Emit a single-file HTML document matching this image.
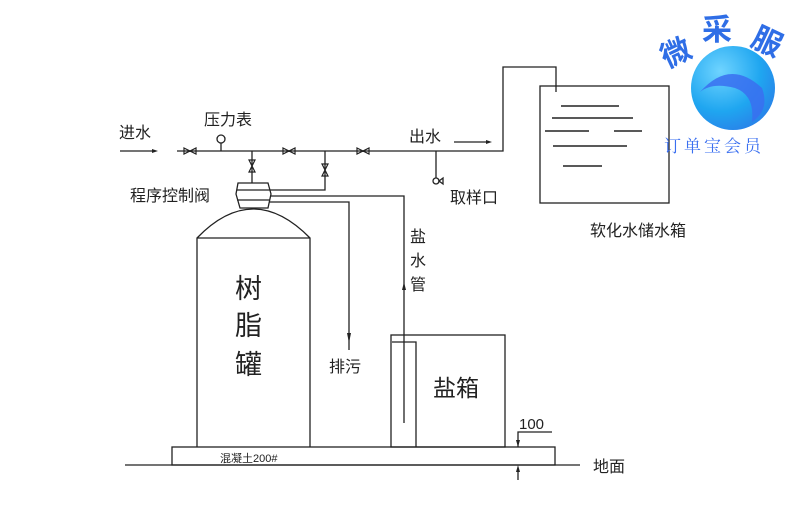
<!DOCTYPE html>
<html><head><meta charset="utf-8"><style>
body{margin:0;background:#fff;}
svg{display:block;}
text{font-family:"Liberation Sans","Noto Sans CJK SC",sans-serif;fill:#222;}
</style></head><body>
<svg width="800" height="529" viewBox="0 0 800 529" xmlns="http://www.w3.org/2000/svg">
<defs>
<radialGradient id="g" cx="0.35" cy="0.3" r="0.8">
<stop offset="0" stop-color="#6fd4ff"/><stop offset="0.6" stop-color="#1fa6f0"/><stop offset="1" stop-color="#2a7de8"/>
</radialGradient>
</defs>
<g stroke="#222" stroke-width="1.3" fill="none">
<path d="M177 151 H503 V67 H556 V92"/>
<rect x="540" y="86" width="129" height="117"/>
<path d="M561 106H619 M552 118H633 M545 131H589 M614 131H642 M553 146H627 M563 166H602" stroke-width="1.6"/>
<path d="M252 151V183 M325 151V190 H270 M271 196H404V423 M268 202H349V350 M436 151V178"/>
<path d="M238 183H268L271 194L268 208H240L236 194Z" fill="#fff"/>
<path d="M237 190H270 M237 200H270"/>
<path d="M197 447V238 Q253 180 310 238V447 M197 238H310"/>
<rect x="391" y="335" width="114" height="112"/>
<path d="M392 342H416V447"/>
<rect x="172" y="447" width="383" height="18"/>
<path d="M125 465H580"/>
<path d="M518 447V432H552 M518 470V480"/>
<path d="M120 151H152 M454 142H486"/>
<circle cx="436" cy="181" r="3"/>
<path d="M439 181l4-3v6z"/>
<path d="M221 143V151"/>
<circle cx="221" cy="139" r="4"/>
</g>
<g fill="#222">
<path d="M184 148l12 6v-6l-12 6z M283 148l12 6v-6l-12 6z M357 148l12 6v-6l-12 6z" stroke="#222" stroke-width="1.2" fill="none"/>
<path d="M249 160l6 12h-6l6-12z M322 164l6 12h-6l6-12z" stroke="#222" stroke-width="1.2" fill="none"/>
<path d="M152 149l6 2-6 2z M486 140l6 2-6 2z M347 333l2 10 2-10z M402 290l2-8 2 8z M516 440l2 7 2-7z M516 472l2-7 2 7z"/>
</g>
<text x="119" y="138" font-size="16">进水</text>
<text x="204" y="125" font-size="16">压力表</text>
<text x="409" y="142" font-size="16">出水</text>
<text x="130" y="201" font-size="16">程序控制阀</text>
<text x="450" y="203" font-size="16">取样口</text>
<text x="590" y="236" font-size="16">软化水储水箱</text>
<text x="410" y="242" font-size="16">盐</text>
<text x="410" y="266" font-size="16">水</text>
<text x="410" y="290" font-size="16">管</text>
<text x="235" y="298" font-size="27">树</text>
<text x="235" y="335" font-size="27">脂</text>
<text x="235" y="374" font-size="27">罐</text>
<text x="329" y="372" font-size="16">排污</text>
<text x="433" y="396" font-size="23">盐箱</text>
<text x="519" y="429" font-size="15">100</text>
<text x="220" y="462" font-size="11">混凝土200#</text>
<text x="593" y="472" font-size="16">地面</text>
<circle cx="733" cy="88" r="42" fill="url(#g)"/>
<path d="M700 92 Q730 58 762 88 Q770 110 752 122 Q755 95 735 88 Q712 82 700 92Z" fill="#3a6ff0" opacity="0.85"/>
<text x="660" y="62" font-size="30" font-weight="bold" style="fill:#2f6ee6" transform="rotate(-25 678 50)">微</text>
<text x="702" y="40" font-size="30" font-weight="bold" style="fill:#2f6ee6">采</text>
<text x="752" y="52" font-size="30" font-weight="bold" style="fill:#2f6ee6" transform="rotate(25 767 42)">服</text>
<text x="664" y="152" font-size="17" style="fill:#3a6ff0;font-family:'Noto Serif CJK SC',serif;letter-spacing:3px">订单宝会员</text>
</svg>
</body></html>
